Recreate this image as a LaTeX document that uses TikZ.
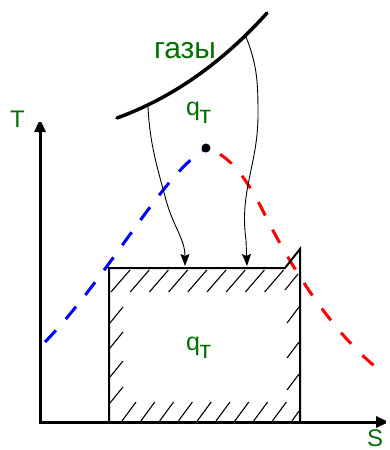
\documentclass[tikz,border=0pt]{standalone}
\usepackage{fontspec}
\setmainfont{Liberation Sans}
\usetikzlibrary{arrows.meta}
\definecolor{lblgreen}{RGB}{0,110,0}
\begin{document}
\begin{tikzpicture}[x=1pt,y=-1pt,
 axisline/.style={line width=3pt,miter limit=2,
   {Triangle[length=13pt,width=11pt]}-{Triangle[length=13pt,width=11pt]}},
 boxline/.style={line width=2pt},
 hatchline/.style={line width=1.1pt},
 gasline/.style={line width=3.5pt,line cap=round},
 heat/.style={line width=0.9pt,-{Stealth[length=12pt,width=9pt,inset=2pt]}},
 bluecurve/.style={draw=blue,line width=3pt,dash pattern=on 16pt off 15pt},
 redcurve/.style={draw=red,line width=3pt,dash pattern=on 15pt off 16pt,dash phase=16pt},
 lbl/.style={text=lblgreen,inner sep=0pt}]
\useasboundingbox (0,0) rectangle (389,450);

% axes
\coordinate (O) at (40,422);
\coordinate (Ty) at (40,119);
\coordinate (Sx) at (389,422);

% dashed bell curve
\coordinate (P0) at (45,342);
\coordinate (Pk) at (206,149);
\coordinate (P1) at (265,215);
\coordinate (P2) at (378,369);
\draw[bluecurve] (P0) .. controls (110,275) and (165,170) .. (Pk);
\draw[redcurve] (Pk) .. controls (228,152) and (248,180) .. (P1)
   .. controls (290,265) and (330,330) .. (P2);

% hatching
\foreach \k in {0,...,8} \draw[hatchline] ({111+19.2*\k},292) -- ++(19,-22);
\draw[hatchline] (285,290) -- (298,274);
\foreach \k in {0,...,8} \draw[hatchline] ({122+18.8*\k},421) -- ++(14,-19);
\draw[hatchline] (292,421) -- (299,411);
\foreach \y in {323,348,377,403} \draw[hatchline] (110,\y) -- ++(13,-16);
\foreach \y in {323,358,390} \draw[hatchline] (287,\y) -- ++(12,-16);

% rectangle outline
\coordinate (R1) at (109,422);
\coordinate (R2) at (109,268);
\coordinate (R3) at (285,268);
\coordinate (R4) at (300,249);
\coordinate (R5) at (300,422);
\draw[boxline] (R1) -- (R2) -- (R3) -- (R4) -- (R5);

\draw[axisline] (Ty) -- (O) -- (Sx);

% gas curve
\coordinate (G0) at (117,118);
\coordinate (G1) at (267,13);
\draw[gasline] (G0) .. controls (172,98) and (222,63) .. (G1);

% heat arrows
\coordinate (gA) at (148,107);
\coordinate (mA) at (166,200);
\coordinate (tA) at (185,266);
\draw[heat] (gA) to[out=-87,in=105] (mA) to[out=-75,in=90] (tA);
\coordinate (gB) at (246,37);
\coordinate (mB1) at (258,115);
\coordinate (mB2) at (246,240);
\coordinate (tB) at (247,266);
\draw[heat] (gB) to[out=-68,in=90] (mB1) to[out=-90,in=98] (mB2) -- (tB);

% critical point
\fill (206,148) circle (4.5);

% labels
\node[lbl,anchor=base,font=\fontsize{30}{30}\selectfont] (gas) at (185,58) {газы};
\node[lbl,anchor=base west,font=\fontsize{25}{25}\selectfont] (qtop) at (186,115) {q\kern-0.5pt\raisebox{-8pt}{т}};
\node[lbl,anchor=base west,font=\fontsize{25}{25}\selectfont] (qbot) at (186,350) {q\kern-0.5pt\raisebox{-8pt}{т}};
\node[lbl,anchor=base,font=\fontsize{24}{24}\selectfont] (Tlab) at (17.5,127) {T};
\node[lbl,anchor=base,font=\fontsize{24}{24}\selectfont] (Slab) at (375,446) {S};
\end{tikzpicture}
\end{document}
